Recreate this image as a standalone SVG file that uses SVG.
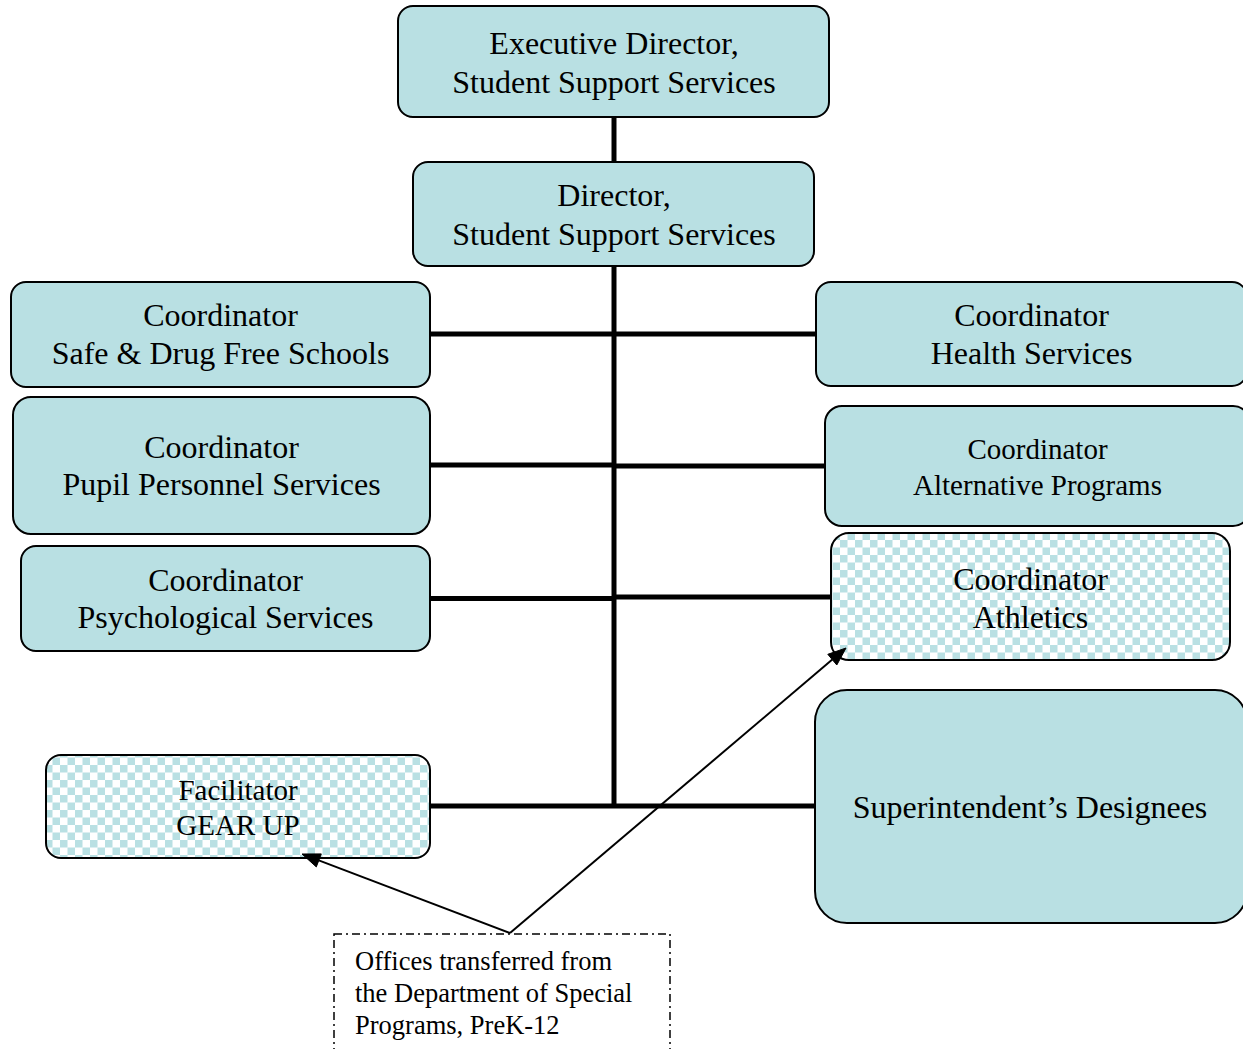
<svg xmlns="http://www.w3.org/2000/svg" width="1243" height="1049" viewBox="0 0 1243 1049">
<defs>
<style>
.box{fill:#b9e0e3;stroke:#000;stroke-width:2}
.chk{fill:url(#checker);stroke:#000;stroke-width:2}
.t{font-family:"Liberation Serif","Times New Roman",serif;font-size:32px;fill:#000;text-anchor:middle}
.s{font-size:29px}
.note{font-family:"Liberation Serif","Times New Roman",serif;font-size:26.5px;fill:#000}
.conn{stroke:#000;stroke-width:5;fill:none}
.arr{stroke:#000;stroke-width:2;fill:none}
.head{fill:#000;stroke:#000;stroke-width:1;stroke-linejoin:miter}
</style>
<pattern id="checker" x="0" y="0" width="15" height="15" patternUnits="userSpaceOnUse">
<rect width="15" height="15" fill="#ffffff"/>
<rect x="0" y="0" width="7.5" height="7.5" fill="#b9e0e3"/>
<rect x="7.5" y="7.5" width="7.5" height="7.5" fill="#b9e0e3"/>
</pattern>
</defs>
<rect width="1243" height="1049" fill="#ffffff"/>
<g id="exec">
<rect class="box" x="398" y="6" width="431" height="111" rx="15"/>
<text class="t" x="614" y="54">Executive Director,</text>
<text class="t" x="614" y="93">Student Support Services</text>
</g>
<g id="director">
<rect class="box" x="413" y="162" width="401" height="104" rx="15"/>
<text class="t" x="614" y="206">Director,</text>
<text class="t" x="614" y="245">Student Support Services</text>
</g>
<g id="safe">
<rect class="box" x="11" y="282" width="419" height="105" rx="15"/>
<text class="t" x="220.5" y="326">Coordinator</text>
<text class="t" x="220.5" y="364">Safe &amp; Drug Free Schools</text>
</g>
<g id="pupil">
<rect class="box" x="13" y="397" width="417" height="137" rx="18"/>
<text class="t" x="221.5" y="458">Coordinator</text>
<text class="t" x="221.5" y="495">Pupil Personnel Services</text>
</g>
<g id="psych">
<rect class="box" x="21" y="546" width="409" height="105" rx="15"/>
<text class="t" x="225.5" y="591">Coordinator</text>
<text class="t" x="225.5" y="628">Psychological Services</text>
</g>
<g id="gearup">
<rect class="chk" x="46" y="755" width="384" height="103" rx="15"/>
<text class="t s" x="238" y="800">Facilitator</text>
<text class="t s" x="238" y="835">GEAR UP</text>
</g>
<g id="health">
<rect class="box" x="816" y="282" width="431" height="104" rx="15"/>
<text class="t" x="1031.5" y="326">Coordinator</text>
<text class="t" x="1031.5" y="364">Health Services</text>
</g>
<g id="alternative">
<rect class="box" x="825" y="406" width="425" height="120" rx="17"/>
<text class="t s" x="1037.5" y="459">Coordinator</text>
<text class="t s" x="1037.5" y="495">Alternative Programs</text>
</g>
<g id="athletics">
<rect class="chk" x="831" y="533" width="399" height="127" rx="18"/>
<text class="t" x="1030.5" y="590">Coordinator</text>
<text class="t" x="1030.5" y="628">Athletics</text>
</g>
<g id="designees">
<rect class="box" x="815" y="690" width="432" height="233" rx="32"/>
<text class="t" x="1030" y="818">Superintendent’s Designees</text>
</g>
<g id="note">
<rect x="334" y="934" width="336" height="130" fill="none" stroke="#000" stroke-width="1.5" stroke-dasharray="8 4 2 4"/>
<text class="note" x="355" y="970">Offices transferred from</text>
<text class="note" x="355" y="1002">the Department of Special</text>
<text class="note" x="355" y="1034">Programs, PreK-12</text>
</g>
<g id="connectors">
<line class="conn" x1="614" y1="118" x2="614" y2="161"/>
<line class="conn" x1="614" y1="267" x2="614" y2="808"/>
<line class="conn" x1="431" y1="334" x2="815" y2="334"/>
<line class="conn" x1="431" y1="465" x2="614" y2="465"/>
<line class="conn" x1="614" y1="466" x2="824" y2="466"/>
<line class="conn" x1="431" y1="598.5" x2="614" y2="598.5"/>
<line class="conn" x1="614" y1="597" x2="830" y2="597"/>
<line class="conn" x1="431" y1="806" x2="814" y2="806"/>
<line class="arr" x1="510" y1="933" x2="318.8" y2="860.4"/>
<polygon class="head" points="302,854 321.3,853.9 316.3,866.9"/>
<line class="arr" x1="510" y1="933" x2="832.3" y2="659.6"/>
<polygon class="head" points="846,648 836.8,665.0 827.8,654.3"/>
</g>
</svg>
